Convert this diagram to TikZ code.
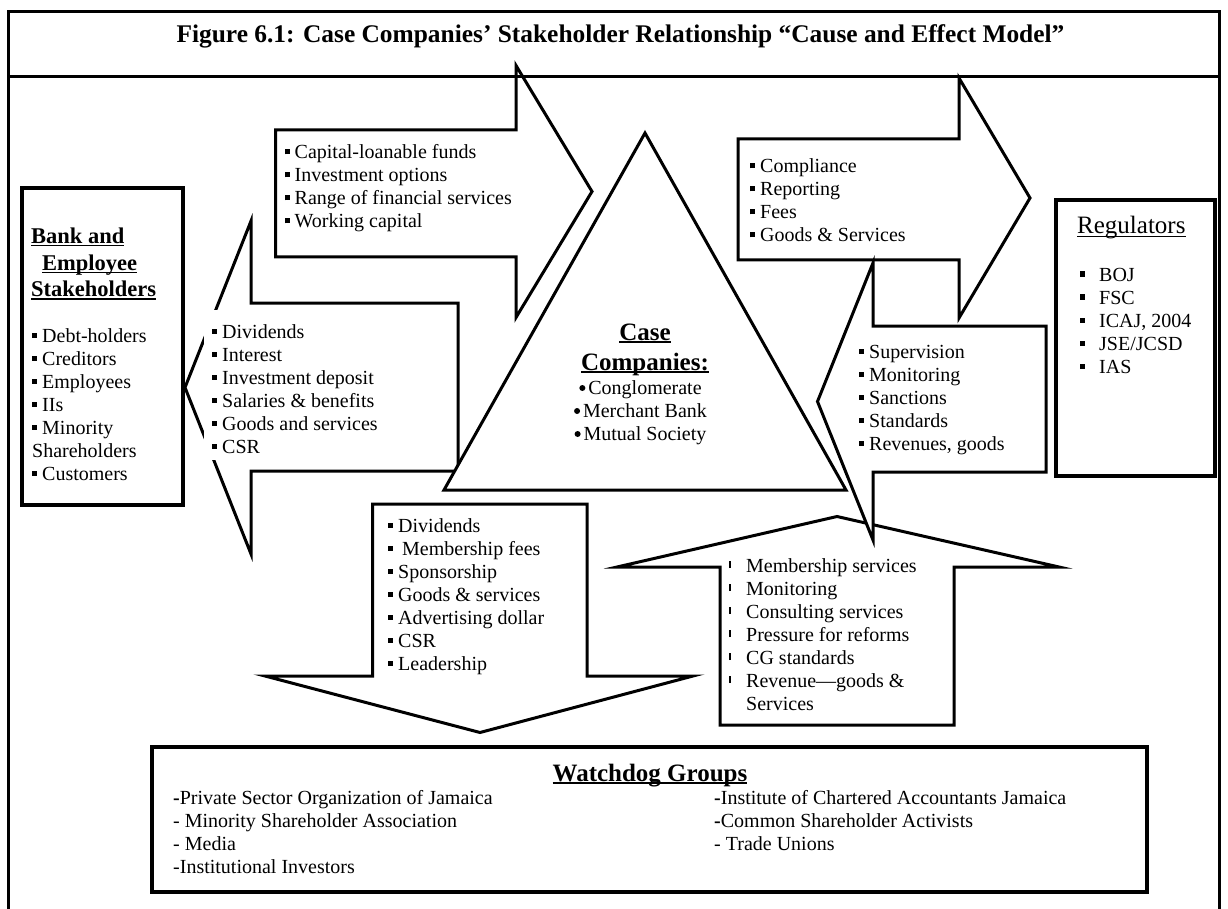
\documentclass[tikz,border=0pt]{standalone}
\usepackage{fontspec}
\setmainfont{Liberation Serif}
% list markers
\newcommand\sq{\makebox[10pt][l]{\rule[4.5pt]{5pt}{5pt}}}
\newcommand\sqwide{\makebox[19pt][l]{\rule[4.5pt]{5pt}{5pt}}}
\newcommand\vbul{\makebox[17pt][l]{\rule[4pt]{2pt}{7pt}}}
\newcommand\rdot{\makebox[10pt][l]{\hspace{1pt}\tikz[baseline=0pt]\fill (0pt,6pt) circle (3pt);}}
% heavy underline
\newcommand\ulin[2][1.8pt]{\setbox0\hbox{#2}\leavevmode\rlap{\rule[-3pt]{\wd0}{#1}}\box0}
% one node per line, 23pt apart
\newcommand\textlines[5]{%
  \foreach \t [count=\i] in {#5}{%
    \node[txt,anchor=#4] (#1-\i) at (#2,{#3+23*(\i-1)}) {\t};}}
\begin{document}
\begin{tikzpicture}[x=1pt,y=-1pt,
  frame/.style={draw,line width=3pt},
  arr/.style={draw,line width=3pt,line join=miter},
  box/.style={draw,line width=3.3pt},
  txt/.style={inner sep=0pt,font=\fontsize{20}{23}\selectfont},
  bighead/.style={inner sep=0pt,anchor=base,font=\fontsize{25}{29}\selectfont\bfseries},
  bankhead/.style={inner sep=0pt,anchor=base west,font=\fontsize{22.5}{26}\selectfont\bfseries}]
\useasboundingbox (0,0) rectangle (1228,909);

% outer frame
\draw[frame] (8,909) -- (8,12) -- (1219,12) -- (1219,909);

% funds flowing to the companies
\draw[arr] (275.5,130) -- (516,130) -- (516,65.5) -- (592,191.5) -- (516,317.5)
  -- (516,257) -- (275.5,257) -- cycle;
% returns flowing back to bank and employee stakeholders
\draw[arr] (185,387.5) -- (251,221) -- (251,303) -- (458,303) -- (458,471)
  -- (251,471) -- (251,554) -- cycle;
\fill[white] (204,310) rectangle (445,460);

% the companies
\draw[arr,fill=white] (645,133) -- (846,490) -- (444,490) -- cycle;

% obligations to the regulators
\draw[arr] (738,139) -- (959,139) -- (959,78) -- (1030,198) -- (959,318)
  -- (959,260) -- (738,260) -- cycle;
% services from the watchdog groups
\draw[arr,fill=white] (837,516.5) -- (1059,567) -- (954,567) -- (954,725)
  -- (720,725) -- (720,567) -- (617,567) -- cycle;
% oversight from the regulators
\draw[arr,fill=white] (817.5,401.5) -- (873,263) -- (873,326) -- (1046,326)
  -- (1046,472) -- (873,472) -- (873,540) -- cycle;
% contributions to the watchdog groups
\draw[arr] (372.5,504) -- (587,504) -- (587,676) -- (693,676) -- (480,732.5)
  -- (265,676) -- (372.5,676) -- cycle;

% stakeholder boxes
\draw[box] (22,188) rectangle (183,505);
\draw[box] (1056,200) rectangle (1215,476);
\draw[box] (152,747) rectangle (1147,892);

% title band
\draw[frame] (8,76.5) -- (1219,76.5);
\node[inner sep=0pt,anchor=base,font=\fontsize{25.4}{29}\selectfont\bfseries] (title)
  at (620.5,43) {Figure 6.1: Case Companies’ Stakeholder Relationship “Cause and Effect Model”};

% arrow texts
\textlines{fund}{284.5}{159}{base west}{\sq Capital-loanable funds, \sq Investment options,
  \sq Range of financial services, \sq Working capital}
\textlines{ret}{212}{338}{base west}{\sq Dividends, \sq Interest, \sq Investment deposit,
  \sq Salaries \& benefits, \sq Goods and services, \sq CSR}
\textlines{obl}{750}{173}{base west}{\sq Compliance, \sq Reporting, \sq Fees,
  \sq Goods \& Services}
\textlines{ovs}{859}{358}{base west}{\sq Supervision, \sq Monitoring, \sq Sanctions,
  \sq Standards, {\sq Revenues, goods}}
\textlines{con}{388}{532}{base west}{\sq Dividends, \sq\hspace{4pt}Membership fees,
  \sq Sponsorship, \sq Goods \& services, \sq Advertising dollar, \sq CSR, \sq Leadership}
\textlines{svc}{729}{572}{base west}{\vbul Membership services, \vbul Monitoring,
  \vbul Consulting services, \vbul Pressure for reforms, \vbul CG standards,
  \vbul Revenue—goods \&, \hspace*{17pt}Services}

% bank and employee stakeholders
\node[bankhead] (bank1) at (31,243.5) {\ulin{Bank and}};
\node[bankhead] (bank2) at (42,270.5) {\ulin{Employee}};
\node[bankhead] (bank3) at (31,296.5) {\ulin{Stakeholders}};
\textlines{bk}{32}{342}{base west}{\sq Debt-holders, \sq Creditors, \sq Employees, \sq IIs,
  \sq Minority, Shareholders, \sq Customers}

% case companies
\node[bighead] (case1) at (645,340) {\ulin[2pt]{Case}};
\node[bighead] (case2) at (645,370) {\ulin[2pt]{Companies:}};
\textlines{cc}{640}{394}{base}{\rdot Conglomerate, \rdot Merchant Bank, \rdot Mutual Society}

% regulators
\node[inner sep=0pt,anchor=base west,font=\fontsize{25}{29}\selectfont] (reg)
  at (1077,234) {\ulin[1.5pt]{Regulators}};
\textlines{rg}{1080}{281}{base west}{\sqwide BOJ, \sqwide FSC, {\sqwide ICAJ, 2004},
  \sqwide JSE/JCSD, \sqwide IAS}

% watchdog groups
\node[bighead] (wd) at (650,781) {\ulin[2pt]{Watchdog Groups}};
\textlines{wl}{173}{804}{base west}{\textbf{-}Private Sector Organization of Jamaica,
  - Minority Shareholder Association, - Media, -Institutional Investors}
\textlines{wr}{714}{804}{base west}{\textbf{-}Institute of Chartered Accountants Jamaica,
  \textbf{-}Common Shareholder Activists, - Trade Unions}
\end{tikzpicture}
\end{document}
